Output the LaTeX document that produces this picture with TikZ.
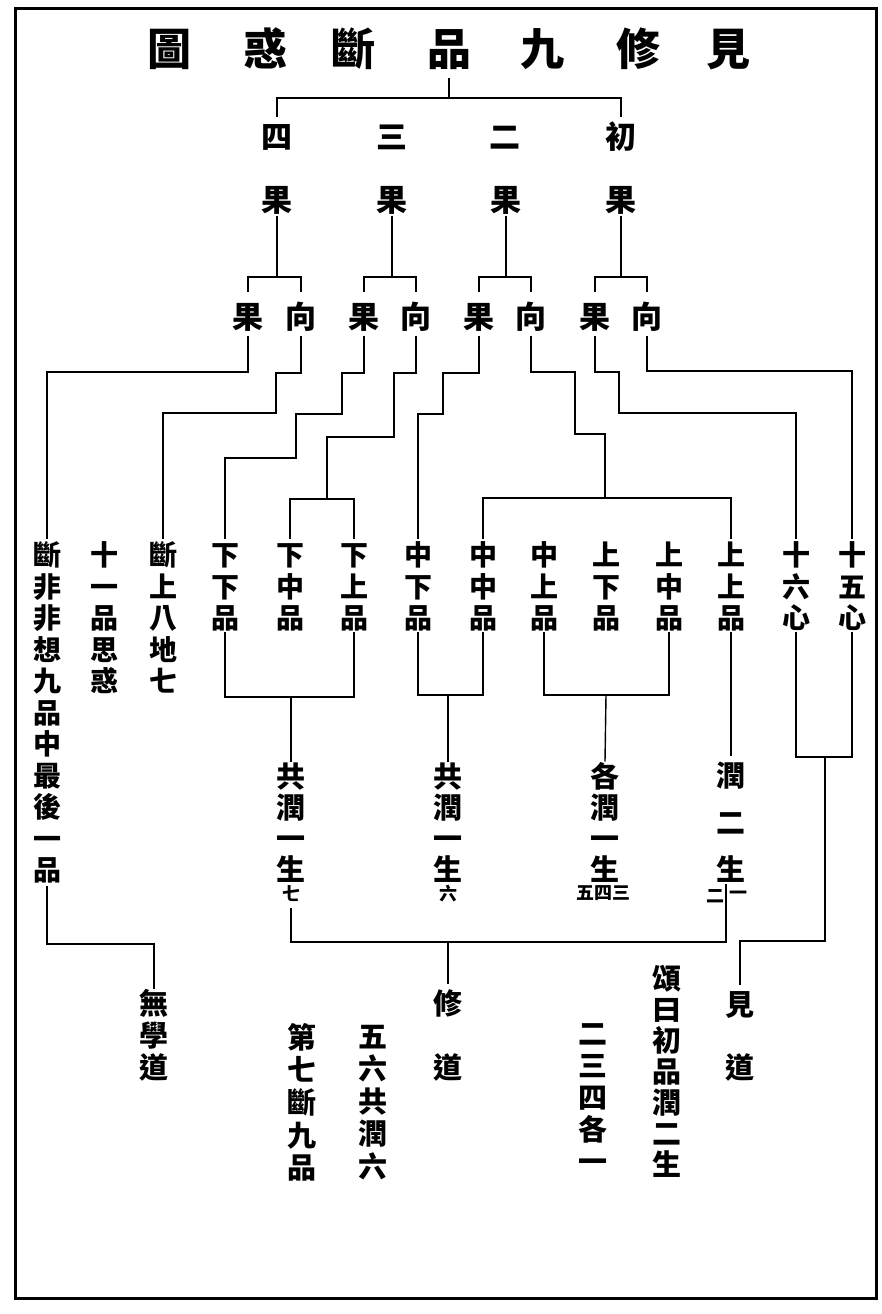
\documentclass[tikz,border=0pt]{standalone}
\usepackage{fontspec}
\newfontfamily\cjk{Noto Sans CJK TC}
\newcommand\vcol[6]{\foreach \ch [count=\k] in {#6} {\node[#5] (#1-\k) at (#2,{#3+(\k-1)*#4}) {\ch};}}
\begin{document}
\begin{tikzpicture}[x=1pt,y=-1pt,
  cj/.style={inner sep=0pt, outer sep=0pt},
  ttl/.style={cj, font=\cjk\bfseries\fontsize{44}{44}\selectfont, text height=38.7pt, text depth=5.3pt},
  big/.style={cj, font=\cjk\bfseries\fontsize{31}{31}\selectfont, text height=27.3pt, text depth=3.7pt},
  colc/.style={cj, font=\cjk\bfseries\fontsize{28}{28}\selectfont, text height=24.6pt, text depth=3.4pt},
  midc/.style={cj, font=\cjk\bfseries\fontsize{29}{29}\selectfont, text height=25.5pt, text depth=3.5pt},
  sml/.style={cj, font=\cjk\bfseries\fontsize{18}{18}\selectfont, text height=15.8pt, text depth=2.2pt},
  conn/.style={line width=1.4pt},
  frame/.style={line width=3pt},
]
\useasboundingbox[fill=white] (0,0) rectangle (882,1314);
\draw[frame] (15,9) rectangle (876,1298);

% title
\node[ttl] (t1) at (169,49) {圖};
\node[ttl] (t2) at (265,49) {惑};
\node[ttl] (t3) at (353,49) {斷};
\node[ttl] (t4) at (449,49) {品};
\node[ttl] (t5) at (542,49) {九};
\node[ttl] (t6) at (638,49) {修};
\node[ttl] (t7) at (728,49) {見};

% row 1
\node[big] (a1) at (277,137) {四};
\node[big] (a2) at (392,137) {三};
\node[big] (a3) at (505,137) {二};
\node[big] (a4) at (621,137) {初};
% row 2
\node[big] (b1) at (277,200) {果};
\node[big] (b2) at (392,200) {果};
\node[big] (b3) at (506,200) {果};
\node[big] (b4) at (621,200) {果};
% row 3
\node[big] (c1) at (248,317) {果};
\node[big] (c2) at (301,317) {向};
\node[big] (c3) at (364,317) {果};
\node[big] (c4) at (416,317) {向};
\node[big] (c5) at (479,317) {果};
\node[big] (c6) at (531,317) {向};
\node[big] (c7) at (595,317) {果};
\node[big] (c8) at (647,317) {向};

% row 4
\vcol{d1}{47}{555}{31.5}{colc}{斷,非,非,想,九,品,中,最,後,一,品}
\vcol{d2}{104}{555}{31.5}{colc}{十,一,品,思,惑}
\vcol{d3}{163}{555}{31.5}{colc}{斷,上,八,地,七}
\vcol{d4}{225}{555}{31.5}{colc}{下,下,品}
\vcol{d5}{290}{555}{31.5}{colc}{下,中,品}
\vcol{d6}{354}{555}{31.5}{colc}{下,上,品}
\vcol{d7}{418}{555}{31.5}{colc}{中,下,品}
\vcol{d8}{483}{555}{31.5}{colc}{中,中,品}
\vcol{d9}{544}{555}{31.5}{colc}{中,上,品}
\vcol{d10}{606}{555}{31.5}{colc}{上,下,品}
\vcol{d11}{669}{555}{31.5}{colc}{上,中,品}
\vcol{d12}{731}{555}{31.5}{colc}{上,上,品}
\vcol{d13}{796}{555}{31.5}{colc}{十,六,心}
\vcol{d14}{852}{555}{31.5}{colc}{十,五,心}

% row 5
\vcol{e1}{291}{776}{31.3}{midc}{共,潤,一,生}
\vcol{e2}{448}{776}{31.3}{midc}{共,潤,一,生}
\vcol{e3}{605}{776}{31.3}{midc}{各,潤,一,生}
\vcol{e4}{731}{775}{47}{midc}{潤,二,生}
\node[sml] (s7) at (291,894) {七};
\node[sml] (s6) at (448,894) {六};
\node[sml] (s543) at (603,893) {五四三};
\node[sml] (s2) at (715,896) {二};
\node[sml] (s1) at (738,893) {一};

% row 6
\vcol{f1}{154}{1003}{32}{midc}{無,學,道}
\vcol{f2}{448}{1003}{64}{midc}{修,道}
\vcol{f3}{740}{1004}{63}{midc}{見,道}
\vcol{g1}{667}{978}{31}{midc}{頌,曰,初,品,潤,二,生}
\vcol{g2}{593}{1033}{32}{midc}{二,三,四,各,一}
\vcol{g3}{373}{1036}{32.5}{midc}{五,六,共,潤,六}
\vcol{g4}{302}{1037}{32.7}{midc}{第,七,斷,九,品}

% connectors: title to row 1
\draw[conn, shorten <=7pt] (t4.south) -- (t4.south |- 0,98);
\draw[conn, shorten <=5pt, shorten >=5pt] (a1.north) |- (a4.north |- 0,98) -- (a4.north);

% row 2 to row 3
\foreach \g/\l/\r in {b1/c1/c2, b2/c3/c4, b3/c5/c6, b4/c7/c8} {
  \draw[conn] (\g.south) -- (\g.south |- 0,277);
  \draw[conn, shorten <=10pt, shorten >=10pt] (\l.north) |- (\r.north |- 0,277) -- (\r.north);
}

% row 3 to row 4
\coordinate (j1) at (327,499);
\coordinate (j2) at (605,498);
\draw[conn, shorten <=3pt, shorten >=2pt] (c1.south) |- (d1-1.north |- 0,372) -- (d1-1.north);
\draw[conn, shorten <=3pt, shorten >=2pt] (c2.south) |- (276,373) |- (d3-1.north |- 0,413) -- (d3-1.north);
\draw[conn, shorten <=3pt, shorten >=2pt] (c3.south) |- (342,373) |- (296,414) |- (d4-1.north |- 0,458) -- (d4-1.north);
\draw[conn, shorten <=3pt] (c4.south) |- (394,373) |- (j1 |- 0,437) -- (j1);
\draw[conn, shorten <=2pt, shorten >=2pt] (d5-1.north) |- (d6-1.north |- j1) -- (d6-1.north);
\draw[conn, shorten <=3pt, shorten >=2pt] (c5.south) |- (443,373) |- (d7-1.north |- 0,414) -- (d7-1.north);
\draw[conn, shorten <=3pt] (c6.south) |- (575,372) |- (j2 |- 0,434) -- (j2);
\draw[conn, shorten <=2pt, shorten >=2pt] (d8-1.north) |- (d12-1.north |- j2) -- (d12-1.north);
\draw[conn, shorten <=3pt, shorten >=2pt] (c7.south) |- (619,372) |- (d13-1.north |- 0,413) -- (d13-1.north);
\draw[conn, shorten <=3pt, shorten >=2pt] (c8.south) |- (d14-1.north |- 0,371) -- (d14-1.north);

% row 4 to row 5
\coordinate (j3) at (291,697);
\coordinate (j4) at (448,695);
\coordinate (j5) at (606,695);
\coordinate (j6) at (825,757);
\draw[conn] (d4-3.south) |- (d6-3.south |- j3) -- (d6-3.south);
\draw[conn] (j3) -- (e1-1.north);
\draw[conn] (d7-3.south) |- (d8-3.south |- j4) -- (d8-3.south);
\draw[conn] (j4) -- (e2-1.north);
\draw[conn] (d9-3.south) |- (d11-3.south |- j5) -- (d11-3.south);
\draw[conn] (j5) -- (e3-1.north);
\draw[conn, shorten >=5pt] (d12-3.south) -- (e4-1.north);
\draw[conn] (d13-3.south) |- (d14-3.south |- j6) -- (d14-3.south);
\draw[conn, shorten >=5pt] (j6) |- (f3-1.north |- 0,941) -- (f3-1.north);

% row 5 to row 6
\coordinate (j7) at (448,942);
\coordinate (e4b) at ([xshift=-5pt]e4-3.south);
\draw[conn, shorten <=5pt] (s7.south) |- (e4b |- j7) -- (e4b);
\draw[conn, shorten >=5pt] (j7) -- (f2-1.north);
\draw[conn, shorten <=2pt] (d1-11.south) |- (f1-1.north |- 0,944) -- (f1-1.north);
\end{tikzpicture}
\end{document}
